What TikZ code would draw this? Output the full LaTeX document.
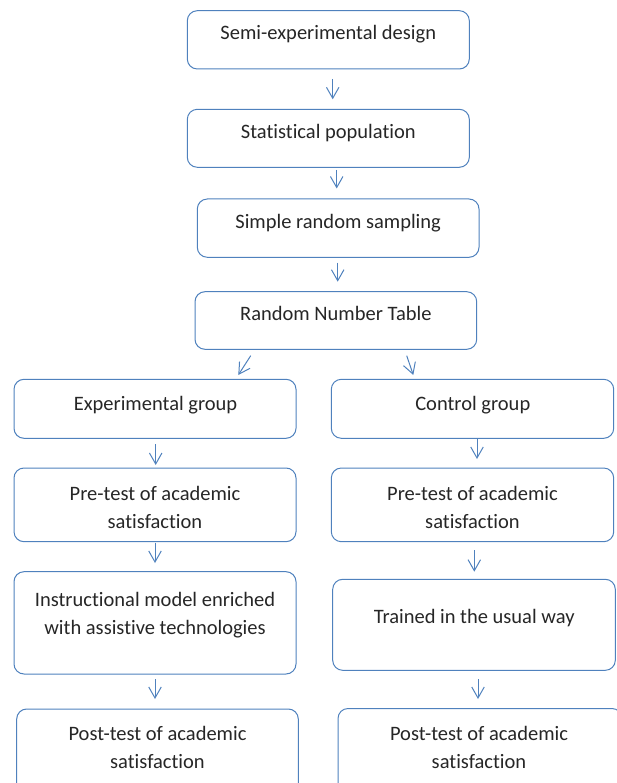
\documentclass[tikz,border=0pt]{standalone}
\usepackage{fontspec}
\setmainfont{Carlito}[Ligatures=NoCommon]
\usetikzlibrary{arrows.meta}
\definecolor{boxblue}{HTML}{4F81BD}
\definecolor{txtcol}{HTML}{262626}
\begin{document}
\begin{tikzpicture}[x=1pt,y=-1pt,
  box/.style={draw=boxblue, line width=1pt, rounded corners=10pt, inner sep=0pt},
  txt/.style={text=txtcol, font=\fontsize{20.5}{28}\selectfont, align=center, inner sep=0pt},
  one/.style={text height=14pt, text depth=4pt},
  arr/.style={draw=boxblue, line width=1pt, -{Straight Barb[length=11pt,width=12.5pt]}}]
\useasboundingbox (0,0) rectangle (617,783);
\clip (0,0) rectangle (617,783);
% boxes
\node[box, minimum width=282pt, minimum height=58.3pt] (b1) at (328.3,39.85) {};
\node[box, minimum width=282pt, minimum height=58pt] (b2) at (328.3,138.3) {};
\node[box, minimum width=281.7pt, minimum height=58.3pt] (b3) at (338.15,228.15) {};
\node[box, minimum width=281.7pt, minimum height=57.6pt] (b4) at (335.85,320.5) {};
\node[box, minimum width=282pt, minimum height=59pt] (b5) at (155,408.8) {};
\node[box, minimum width=282.4pt, minimum height=59pt] (b6) at (472.5,408.8) {};
\node[box, minimum width=282pt, minimum height=73.7pt] (b7) at (155,504.85) {};
\node[box, minimum width=282.4pt, minimum height=73.7pt] (b8) at (472.5,504.85) {};
\node[box, minimum width=282pt, minimum height=102.3pt] (b9) at (155,622.85) {};
\node[box, minimum width=282.6pt, minimum height=91pt] (b10) at (474,624.8) {};
\node[box, minimum width=281.6pt, minimum height=91pt] (b11) at (157.5,754.5) {};
\node[box, minimum width=284pt, minimum height=91.5pt] (b12) at (480,754.25) {};
% texts
\node[txt, one] (t1) at (328.3,34.7) {Semi-experimental design};
\node[txt, one] (t2) at (328.3,133.7) {Statistical population};
\node[txt, one] (t3) at (338.15,223.7) {Simple random sampling};
\node[txt, one] (t4) at (335.85,315.3) {Random Number Table};
\node[txt, one] (t5) at (155.5,405) {Experimental group};
\node[txt, one] (t6) at (472.8,405) {Control group};
\node[txt] (t7) at (155,507) {Pre-test of academic\\satisfaction};
\node[txt] (t8) at (472.5,507) {Pre-test of academic\\satisfaction};
\node[txt] (t9) at (155,614.7) {Instructional model enriched\\with assistive technologies};
\node[txt, one] (t10) at (474.2,618.3) {Trained in the usual way};
\node[txt] (t11) at (157.5,747.2) {Post-test of academic\\satisfaction};
\node[txt] (t12) at (479,747.2) {Post-test of academic\\satisfaction};
% arrow end points
\coordinate (a1s) at (332.7,79);   \coordinate (a1e) at (332.7,99.3);
\coordinate (a2s) at (336.7,170);  \coordinate (a2e) at (336.7,188.5);
\coordinate (a3s) at (337.7,262.7);\coordinate (a3e) at (337.7,281.7);
\coordinate (a4s) at (250.7,355.7);\coordinate (a4e) at (238.3,375);
\coordinate (a5s) at (406.7,355.7);\coordinate (a5e) at (413.3,375);
\coordinate (a6s) at (155.7,444);  \coordinate (a6e) at (155.7,465);
\coordinate (a7s) at (477,438.3);  \coordinate (a7e) at (477,459);
\coordinate (a8s) at (155,542.7);  \coordinate (a8e) at (155,563);
\coordinate (a9s) at (474.3,550);  \coordinate (a9e) at (474.3,571.7);
\coordinate (a10s) at (155,679);   \coordinate (a10e) at (155,699);
\coordinate (a11s) at (478,679);   \coordinate (a11e) at (478,699);
\foreach \i in {1,...,11} {\draw[arr] (a\i s) -- (a\i e);}
\end{tikzpicture}
\end{document}
